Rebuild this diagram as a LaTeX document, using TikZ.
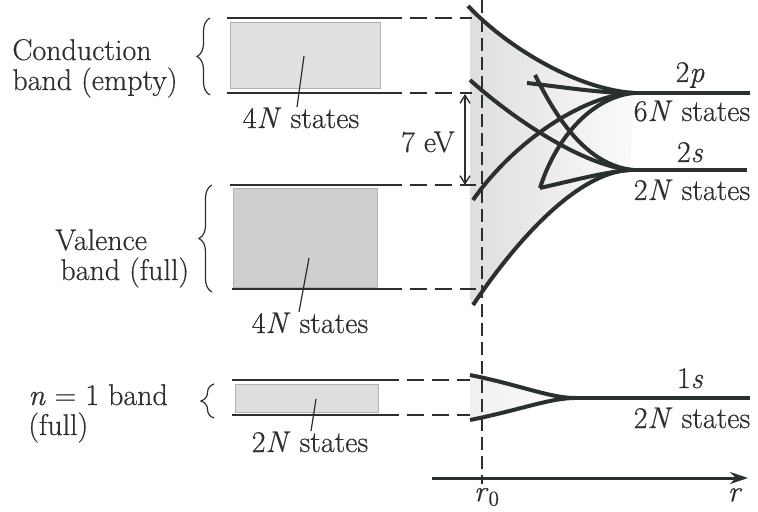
\documentclass[tikz,border=0pt]{standalone}
\usepackage{fontspec}
\setmainfont{Latin Modern Roman}[FakeBold=0.5]
\usetikzlibrary{arrows.meta,decorations.pathreplacing}
\definecolor{ink}{rgb}{0.16,0.19,0.18}
\begin{document}
\begin{tikzpicture}[x=0.5pt,y=-0.5pt,
  txt/.style={font=\fontsize{15}{18}\selectfont, inner sep=0pt, text=ink},
  level/.style={line width=1.1pt, draw=ink},
  gapline/.style={dash pattern=on 8.5pt off 4pt, line width=0.8pt, draw=ink},
  vdash/.style={dash pattern=on 6.5pt off 3pt, line width=0.8pt, draw=ink},
  curve/.style={line width=2pt, draw=ink},
  leader/.style={line width=0.6pt, draw=ink},
  bandfill/.style={draw=gray!60, line width=0.3pt},
  bracestyle/.style={decorate, decoration={brace, amplitude=6.5pt}, line width=0.6pt, draw=ink}]

\useasboundingbox (0,0) rectangle (758,512);

% ---------- shaded band region on the right ----------
\shade[left color=gray!26, right color=gray!3]
  (468,6) .. controls (510,50) and (580,90) .. (635,93)
  -- (630,170)
  .. controls (580,172) and (520,235) .. (473,305) -- (470,300) -- (470,10) -- cycle;
\shade[left color=gray!12, right color=gray!2]
  (470,375) .. controls (520,385) and (550,398) .. (575,398)
  .. controls (550,398) and (520,410) .. (470,420) -- cycle;

% ---------- band rectangles ----------
\fill[gray!24, bandfill] (230,22) rectangle (380,88);
\fill[gray!38, bandfill] (233,188) rectangle (377,287);
\fill[gray!26, bandfill] (235,384) rectangle (378,412);

% band edges
\coordinate (cbT0) at (227,18);  \coordinate (cbT1) at (385,18);  \coordinate (cbT2) at (472,18);
\coordinate (cbB0) at (227,93);  \coordinate (cbB1) at (385,93);  \coordinate (cbB2) at (472,93);
\coordinate (vbT0) at (230,185); \coordinate (vbT1) at (385,185); \coordinate (vbT2) at (476,185);
\coordinate (vbB0) at (232,289); \coordinate (vbB1) at (385,289); \coordinate (vbB2) at (476,289);
\coordinate (nbT0) at (232,380); \coordinate (nbT1) at (382,380); \coordinate (nbT2) at (470,380);
\coordinate (nbB0) at (232,415); \coordinate (nbB1) at (382,415); \coordinate (nbB2) at (470,415);

\foreach \b in {cbT,cbB,vbT,vbB,nbT,nbB}{
  \draw[level] (\b0) -- (\b1);
  \draw[gapline] (\b1) -- (\b2);
}

% vertical r0 line
\coordinate (vtop) at (482,0);
\coordinate (vbot) at (482,484);
\draw[vdash] (vtop) -- (vbot);

% ---------- curves ----------
% 2p upper
\draw[curve] (468,6) .. controls (510,50) and (580,90) .. (635,93);
% 2s upper
\draw[curve] (470,80) .. controls (520,125) and (590,168) .. (633,170);
% 2p lower
\draw[curve] (473,200) .. controls (515,140) and (585,95) .. (633,93);
% 2s lower
\draw[curve] (473,305) .. controls (520,235) and (580,172) .. (630,170);
% short 2p branch
\draw[curve] (527,83) .. controls (570,88) and (600,93) .. (632,93);
% branch to 2s from top
\draw[curve] (535,75) .. controls (555,115) and (585,165) .. (633,170);
% branch to 2p from bottom
\draw[curve] (540,188) .. controls (555,140) and (590,98) .. (633,93);
% short 2s branch
\draw[curve] (540,188) .. controls (575,180) and (605,172) .. (630,170);
% levels at large r
\coordinate (p2a) at (632,93);  \coordinate (p2b) at (750,93);
\coordinate (s2a) at (628,170); \coordinate (s2b) at (747,170);
\draw[curve] (p2a) -- (p2b);
\draw[curve] (s2a) -- (s2b);

% 1s
\draw[curve] (470,375) .. controls (520,385) and (550,398) .. (575,398);
\draw[curve] (470,420) .. controls (520,410) and (550,398) .. (575,398);
\coordinate (s1a) at (573,398); \coordinate (s1b) at (750,398);
\draw[curve] (s1a) -- (s1b);

% ---------- axis ----------
\coordinate (ax0) at (432,478);
\coordinate (ax1) at (748,478);
\draw[line width=1.5pt, draw=ink, -{Stealth[length=9pt,width=6pt]}] (ax0) -- (ax1);
\node[txt] (r0) at (487,497) {\textit{r}\textsubscript{0}};
\node[txt] (rlab) at (735,495) {\textit{r}};

% ---------- 7 eV ----------
\coordinate (gapT) at (465,94);
\coordinate (gapB) at (465,185);
\draw[line width=0.7pt, draw=ink, {Straight Barb[length=4pt,width=5pt]}-{Straight Barb[length=4pt,width=5pt]}] (gapT) -- (gapB);
\node[txt, anchor=base east] (ev) at (455,152) {7 eV};

% ---------- state labels in bands ----------
\node[txt, anchor=base] (cs) at (301,128) {4\textit{N} states};
\coordinate (csl) at (304,56);
\draw[leader] (csl) -- (cs.north -| 297,0);

\node[txt, anchor=base] (vs) at (310,333) {4\textit{N} states};
\coordinate (vsl) at (309,258);
\draw[leader] (vsl) -- (vs.north -| 299,0);

\node[txt, anchor=base] (ns) at (310,452) {2\textit{N} states};
\coordinate (nsl) at (316,399);
\draw[leader] (nsl) -- (ns.north -| 311,0);

% ---------- right labels ----------
\node[txt, anchor=base] (l2p) at (690,82) {2\textit{p}};
\node[txt, anchor=base] (s2p) at (692,121) {6\textit{N} states};
\node[txt, anchor=base] (l2s) at (690,162) {2\textit{s}};
\node[txt, anchor=base] (s2s) at (692,200) {2\textit{N} states};
\node[txt, anchor=base] (l1s) at (690,388) {1\textit{s}};
\node[txt, anchor=base] (s1s) at (692,428) {2\textit{N} states};

% ---------- left labels ----------
\node[txt, anchor=base west] (c1) at (12,60) {Conduction};
\node[txt, anchor=base west] (c2) at (12,90) {band (empty)};
\node[txt, anchor=base west] (v1) at (55,250) {Valence};
\node[txt, anchor=base west] (v2) at (60,280) {band (full)};
\node[txt, anchor=base west] (n1) at (28,405) {\textit{n} = 1 band};
\node[txt, anchor=base west] (n2) at (28,435) {(full)};

% braces
\coordinate (bc0) at (210,95);  \coordinate (bc1) at (210,18);
\coordinate (bv0) at (212,292); \coordinate (bv1) at (212,185);
\coordinate (bn0) at (214,418); \coordinate (bn1) at (214,384);
\draw[bracestyle] (bc0) -- (bc1);
\draw[bracestyle] (bv0) -- (bv1);
\draw[bracestyle] (bn0) -- (bn1);
\end{tikzpicture}
\end{document}
